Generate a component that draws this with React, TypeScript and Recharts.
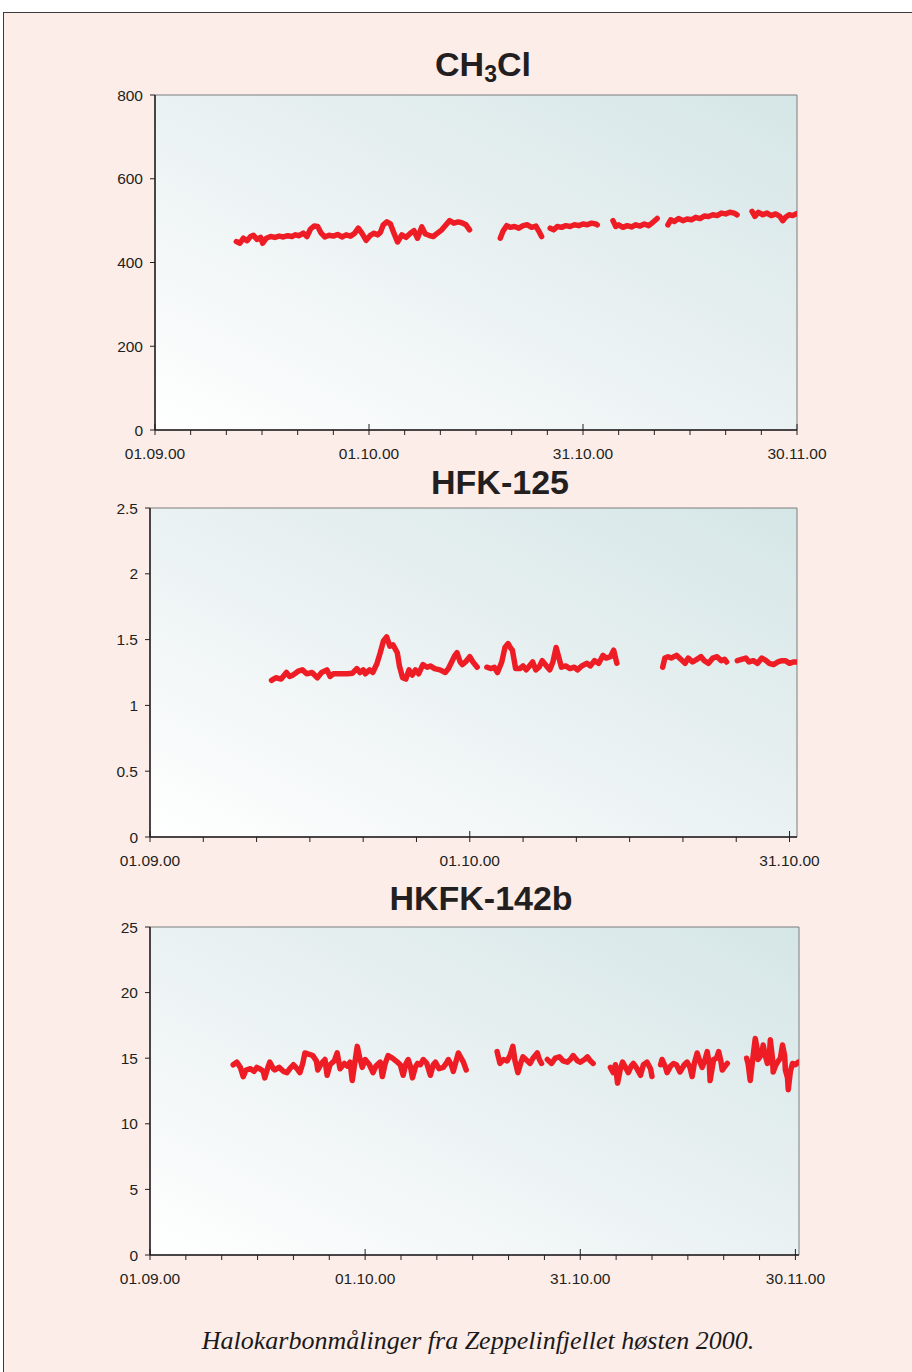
import { LineChart, Line, XAxis, YAxis, ReferenceArea } from "recharts";

// x values are days after 01.09.00, null values mark gaps in the record
const ch3clDays = [
  11.4, 11.9, 12.4, 12.9, 13.4, 13.8, 14.3, 14.8, 15.1, 15.6, 16.2, 16.8, 17.4, 18.0, 18.6, 19.2, 19.7, 20.2,
  20.8, 21.3, 21.8, 22.3, 22.8, 23.3, 23.8, 24.4, 25.0, 25.6, 26.2, 26.8, 27.4, 28.0, 28.5, 29.0, 29.6, 30.2,
  30.7, 31.2, 31.6, 32.0, 32.5, 33.0, 33.5, 34.0, 34.6, 35.2, 35.8, 36.3, 36.8, 37.4, 37.9, 38.4, 39.0, 39.6,
  40.2, 40.8, 41.3, 41.9, 42.5, 43.0, 43.6, 44.1,
  46.0,
  48.4, 48.8, 49.3, 49.8, 50.4, 51.0, 51.6, 52.2, 52.8, 53.4, 53.8, 54.2,
  54.8,
  55.4, 55.9, 56.4, 57.0, 57.6, 58.2, 58.8, 59.4, 60.0, 60.6, 61.2, 61.8, 62.0,
  63.0,
  64.2, 64.6, 65.0, 65.6, 66.2, 66.8, 67.4, 68.0, 68.6, 69.2, 69.8, 70.4,
  71.2,
  71.9, 72.3, 72.8, 73.4, 74.0, 74.6, 75.2, 75.8, 76.4, 77.0, 77.6, 78.2, 78.8, 79.4, 80.0, 80.6, 81.2, 81.6,
  82.6,
  83.7, 84.1, 84.6, 85.2, 85.8, 86.4, 87.0, 87.6, 88.0, 88.4, 88.9, 89.4, 90.0,
];
const ch3clValues = [
  450, 446, 458, 452, 462, 465, 455, 460, 446, 458, 462, 460, 463, 461, 464, 462, 466, 464,
  470, 462, 480, 487, 486, 470, 461, 465, 463, 467, 461, 466, 463, 470, 482, 470, 453, 465,
  470, 466, 472, 490, 497, 492, 470, 449, 466, 460, 470, 476, 458, 485, 468, 465, 462, 470,
  478, 490, 500, 494, 497, 495, 490, 478,
  null,
  458, 475, 488, 484, 486, 482, 488, 490, 484, 487, 475, 462,
  null,
  482, 478, 486, 484, 488, 486, 490, 488, 492, 490, 494, 492, 490,
  null,
  500, 486, 490, 484, 488, 485, 490, 487, 492, 488, 496, 505,
  null,
  490, 502, 498, 505, 500, 504, 502, 508, 505, 511, 510, 514, 512, 518, 516, 520, 518, 514,
  null,
  522, 510, 520, 514, 518, 512, 516, 510, 500, 508, 514, 512, 517,
];

const hfk125Days = [
  11.4, 11.8, 12.3, 12.8, 13.1, 13.4, 13.9, 14.3, 14.7, 15.2, 15.7, 16.1, 16.6, 16.9, 17.2, 17.8, 18.5, 19.0,
  19.4, 19.7, 20.0, 20.2, 20.6, 20.9, 21.3, 21.6, 21.9, 22.2, 22.5, 22.8, 23.2, 23.4, 23.7, 24.0, 24.3, 24.6,
  24.9, 25.2, 25.6, 26.0, 26.3, 26.7, 27.2, 27.7, 28.0, 28.3, 28.6, 28.8, 29.1, 29.3, 29.6, 30.0, 30.3, 30.7,
  31.1,
  31.6, 32.0, 32.3, 32.6, 33.0, 33.3, 33.6, 33.8, 34.0, 34.3, 34.7, 35.0, 35.3, 35.6, 35.9, 36.2, 36.5, 36.8,
  37.2, 37.5, 37.8, 38.1, 38.4, 38.6, 39.0, 39.4, 39.8, 40.1, 40.5, 41.0, 41.3, 41.7, 42.1, 42.5, 42.8, 43.2,
  43.5, 43.8,
  46.0,
  48.1, 48.3, 48.6, 48.9, 49.4, 49.8, 50.2, 50.5, 50.9, 51.3, 51.7, 52.0, 52.4, 52.8, 53.2, 53.6, 53.9, 54.1,
  54.6,
  55.1, 55.5, 55.9, 56.2, 56.6, 57.0, 57.4, 57.8, 58.1, 58.5, 58.9, 59.3, 59.6, 60.0, 60.4, 60.7,
];
const hfk125Values = [
  1.19, 1.21, 1.2, 1.25, 1.22, 1.23, 1.26, 1.27, 1.24, 1.25, 1.21, 1.25, 1.27, 1.22, 1.24, 1.24, 1.24, 1.245,
  1.28, 1.25, 1.27, 1.24, 1.27, 1.25, 1.32, 1.4, 1.49, 1.52, 1.45, 1.46, 1.4, 1.3, 1.21, 1.2, 1.27, 1.23,
  1.27, 1.24, 1.31, 1.29, 1.3, 1.28, 1.27, 1.25, 1.28, 1.33, 1.38, 1.4, 1.33, 1.31, 1.33, 1.37, 1.33, 1.29,
  null,
  1.29, 1.28, 1.29, 1.25, 1.33, 1.44, 1.47, 1.44, 1.42, 1.28, 1.28, 1.3, 1.27, 1.3, 1.33, 1.27, 1.29, 1.34,
  1.3, 1.27, 1.33, 1.44, 1.35, 1.29, 1.3, 1.28, 1.29, 1.27, 1.3, 1.32, 1.3, 1.34, 1.32, 1.38, 1.36, 1.37,
  1.42, 1.32,
  null,
  1.29, 1.36, 1.37, 1.36, 1.38, 1.35, 1.32, 1.36, 1.33, 1.35, 1.37, 1.34, 1.32, 1.36, 1.37, 1.34, 1.35, 1.33,
  null,
  1.34, 1.35, 1.36, 1.33, 1.34, 1.32, 1.36, 1.34, 1.32, 1.31, 1.33, 1.34, 1.34, 1.32, 1.33, 1.33,
];

const hkfk142bDays = [
  11.6, 12.1, 12.6, 13.0, 13.4, 14.0, 14.5, 14.9, 15.3, 15.8, 16.0, 16.5, 16.7, 17.2, 17.4, 18.0, 18.6, 19.1,
  19.5, 20.0, 20.5, 20.9, 21.3, 21.6, 22.2, 22.7, 23.2, 23.4, 23.9, 24.4, 24.7, 25.1, 25.7, 26.1, 26.5, 27.1,
  27.5, 27.9, 28.2, 28.6, 28.9, 29.3, 29.6, 30.0, 30.6, 31.1, 31.5, 32.1, 32.4, 32.8, 33.2, 33.8, 34.5, 34.9,
  35.3, 35.7, 36.0, 36.3, 36.6, 37.0, 37.3, 37.7, 38.1, 38.6, 39.1, 39.5, 39.8, 40.3, 40.9, 41.3, 41.6, 42.0,
  42.3, 42.7, 43.0, 43.4, 43.7, 44.1,
  46.0,
  48.4, 48.8, 49.3, 49.8, 50.2, 50.6, 50.9, 51.3, 51.8, 52.0, 52.6, 53.0, 53.4, 54.0, 54.3, 54.6,
  55.0,
  55.4, 56.0, 56.5, 57.1, 57.6, 58.2, 58.6, 59.0, 59.6, 60.0, 60.6, 61.0, 61.4, 61.8,
  63.0,
  64.2, 64.6, 64.9, 65.2, 65.6, 65.9, 66.3, 66.7, 67.1, 67.4, 67.8, 68.4, 68.8, 69.3, 69.8, 70.0,
  70.6,
  71.2, 71.4, 71.9, 72.1, 72.6, 73.0, 73.4, 73.9, 74.5, 74.9, 75.3, 75.6, 75.9, 76.3, 76.7, 77.0, 77.4, 77.7,
  78.0, 78.1, 78.6, 79.0, 79.3, 79.6, 79.8, 80.2, 80.5,
  82.0,
  83.2, 83.4, 83.7, 84.0, 84.4, 84.7, 84.8, 85.3, 85.5, 85.8, 86.1, 86.4, 86.5, 86.8, 86.9, 87.2, 87.5, 87.9,
  88.2, 88.5, 88.6, 88.9, 89.0, 89.3, 89.6, 90.0, 90.4,
];
const hkfk142bValues = [
  14.5, 14.7, 14.3, 13.6, 14.1, 14.2, 14.0, 14.3, 14.2, 14.0, 13.5, 14.4, 14.7, 14.2, 14.1, 14.3, 14.0, 13.9,
  14.2, 14.5, 14.2, 13.9, 14.6, 15.4, 15.3, 15.2, 14.8, 14.1, 14.6, 14.9, 13.7, 14.5, 14.8, 15.4, 14.2, 14.6,
  14.4, 14.7, 13.3, 14.8, 15.9, 14.9, 14.3, 14.9, 14.5, 13.9, 14.4, 14.7, 13.6, 14.6, 15.2, 15.0, 14.7, 14.5,
  13.7, 14.6, 14.9, 14.4, 13.5, 14.3, 14.6, 14.5, 14.9, 14.6, 13.7, 14.5, 14.7, 14.2, 14.3, 14.6, 14.9, 14.5,
  14.0, 14.8, 15.4, 15.0, 14.7, 14.1,
  null,
  15.5, 14.6, 14.9, 14.8, 15.2, 15.9, 14.8, 13.9, 14.8, 15.1, 14.8, 14.6, 15.0, 15.4, 14.9, 14.6,
  null,
  14.9, 14.6, 15.0, 15.1, 14.8, 14.7, 14.9, 15.2, 14.8, 14.7, 14.9, 15.1, 14.8, 14.6,
  null,
  14.3, 13.9, 14.5, 13.1, 14.2, 14.7, 14.3, 13.9, 14.4, 14.6, 14.3, 13.7, 14.5, 14.7, 14.2, 13.6,
  null,
  14.5, 14.9, 14.3, 13.9, 14.4, 14.6, 14.5, 13.95, 14.5, 14.7, 14.3, 13.6, 14.6, 15.4, 14.7, 14.3, 14.9, 15.5,
  14.5, 13.3, 14.9, 15.0, 15.5, 14.8, 14.1, 14.4, 14.6,
  null,
  15.0, 14.6, 13.3, 14.7, 16.5, 15.6, 14.9, 15.3, 16.0, 15.2, 14.6, 15.5, 16.4, 15.0, 13.95, 14.4, 14.7, 15.0,
  16.0, 15.2, 14.1, 13.5, 12.6, 14.0, 14.6, 14.5, 14.7,
];

const dateTicks90 = [0, 5, 10, 15, 20, 25, 30, 35, 40, 45, 50, 55, 60, 65, 70, 75, 80, 85, 90];
const dateTicks60 = [0, 5, 10, 15, 20, 25, 30, 35, 40, 45, 50, 55, 60];
const dateLabels = ["01.09.00", "01.10.00", "31.10.00", "30.11.00"];

const ch3clTicks = [0, 200, 400, 600, 800];
const hfk125Ticks = [0, 0.5, 1, 1.5, 2, 2.5];
const hkfk142bTicks = [0, 5, 10, 15, 20, 25];

const FONT = "'Liberation Sans', Arial, Helvetica, sans-serif";
const INK = "#231f20";
const RED = "#ee1d25";
const PINK = "#fdede9";

function DateTick(props: any) {
  const { x, y, payload } = props;
  const major = payload.value % 30 === 0;
  return (
    <g>
      <line x1={x} x2={x} y1={major ? y - 6 : y} y2={y + 5} stroke={INK} strokeWidth={1} />
      {major && (
        <text x={x} y={y + 29} textAnchor="middle" fontSize={15.5} fill={INK} fontFamily={FONT}>
          {dateLabels[payload.value / 30]}
        </text>
      )}
    </g>
  );
}

type PanelProps = {
  id: string;
  days: number[];
  values: (number | null)[];
  xMax: number;
  xTicks: number[];
  yMax: number;
  yTicks: number[];
  left: number;
  top: number;
  right: number;
  bottom: number;
};

function Panel({ id, days, values, xMax, xTicks, yMax, yTicks, left, top, right, bottom }: PanelProps) {
  const data = days.map((d, i) => ({ day: d, value: values[i] }));
  const height = bottom - top + 60;

  return (
    <div style={{ position: "absolute", left: 0, top: top - 10 }}>
      <LineChart
        width={912}
        height={height}
        data={data}
        margin={{ top: 10, right: 912 - right, bottom: 20, left: left - 60 }}
      >
        <defs>
          <linearGradient id={id} x1="0" y1="1" x2="1" y2="0">
            <stop offset="0%" stopColor="#ffffff" />
            <stop offset="55%" stopColor="#e8f0f1" />
            <stop offset="100%" stopColor="#d5e6e7" />
          </linearGradient>
        </defs>
        <ReferenceArea
          x1={0}
          x2={xMax}
          y1={0}
          y2={yMax}
          fill={`url(#${id})`}
          fillOpacity={1}
          stroke="#7d7d7d"
          strokeWidth={1}
        />
        <XAxis
          type="number"
          dataKey="day"
          domain={[0, xMax]}
          ticks={xTicks}
          interval={0}
          height={30}
          tickSize={0}
          tickMargin={0}
          tick={<DateTick />}
          axisLine={{ stroke: INK, strokeWidth: 1.5 }}
          allowDataOverflow
        />
        <YAxis
          type="number"
          domain={[0, yMax]}
          ticks={yTicks}
          interval={0}
          width={60}
          tickSize={5}
          tickMargin={7}
          tickLine={{ stroke: INK }}
          axisLine={{ stroke: INK, strokeWidth: 1.5 }}
          tick={{ fontSize: 15.5, fill: INK, fontFamily: FONT }}
          allowDataOverflow
        />
        <Line
          type="linear"
          dataKey="value"
          stroke={RED}
          strokeWidth={5.5}
          strokeLinejoin="round"
          strokeLinecap="round"
          dot={false}
          activeDot={false}
          isAnimationActive={false}
        />
      </LineChart>
    </div>
  );
}

function Title({ children, center, baseline }: { children: any; center: number; baseline: number }) {
  return (
    <div
      style={{
        position: "absolute",
        left: center - 200,
        width: 400,
        top: baseline - 30,
        textAlign: "center",
        fontFamily: FONT,
        fontWeight: 700,
        fontSize: 34,
        lineHeight: "34px",
        color: INK,
      }}
    >
      {children}
    </div>
  );
}

export default function App() {
  return (
    <div
      style={{
        position: "absolute",
        left: 0,
        top: 0,
        width: 912,
        height: 1372,
        overflow: "hidden",
        background: "#ffffff",
      }}
    >
      <div
        style={{
          position: "absolute",
          left: 3,
          top: 12,
          width: 940,
          height: 1400,
          background: PINK,
          border: "1.5px solid #3c3c3c",
        }}
      />

      <Title center={483} baseline={77}>
        CH<sub style={{ fontSize: 23, verticalAlign: "-6px", lineHeight: 0 }}>3</sub>Cl
      </Title>
      <Panel
        id="gradCh3cl"
        days={ch3clDays}
        values={ch3clValues}
        xMax={90}
        xTicks={dateTicks90}
        yMax={800}
        yTicks={ch3clTicks}
        left={155}
        top={95}
        right={797}
        bottom={430}
      />

      <Title center={500} baseline={495}>
        HFK-125
      </Title>
      <Panel
        id="gradHfk125"
        days={hfk125Days}
        values={hfk125Values}
        xMax={60.7}
        xTicks={dateTicks60}
        yMax={2.5}
        yTicks={hfk125Ticks}
        left={150}
        top={508}
        right={797}
        bottom={837}
      />

      <Title center={481} baseline={911}>
        HKFK-142b
      </Title>
      <Panel
        id="gradHkfk142b"
        days={hkfk142bDays}
        values={hkfk142bValues}
        xMax={90.5}
        xTicks={dateTicks90}
        yMax={25}
        yTicks={hkfk142bTicks}
        left={150}
        top={927}
        right={799}
        bottom={1255}
      />

      <div
        style={{
          position: "absolute",
          left: 22,
          width: 912,
          top: 1326,
          textAlign: "center",
          fontFamily: "'Liberation Serif', 'Times New Roman', serif",
          fontStyle: "italic",
          fontSize: 26,
          lineHeight: "30px",
          color: "#1a1a1a",
        }}
      >
        Halokarbonmålinger fra Zeppelinfjellet høsten 2000.
      </div>
    </div>
  );
}
